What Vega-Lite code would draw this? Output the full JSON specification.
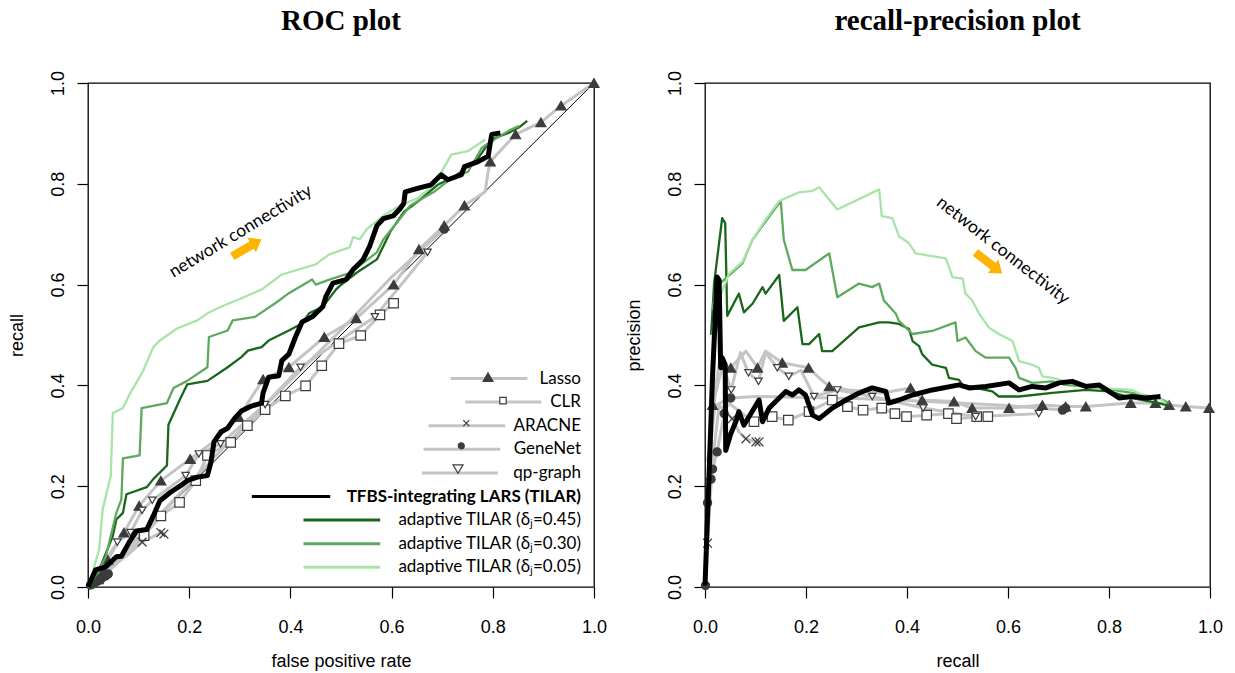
{
"$schema":"https://vega.github.io/schema/vega-lite/v6.json",
"background":"white",
"padding":{"left":7,"top":6,"right":5,"bottom":5},
"spacing":16,
"config":{
 "view":{"stroke":"black","strokeWidth":1.3},
 "axis":{"grid":false,"domain":false,"ticks":true,"tickColor":"black","tickWidth":1.2,"tickSize":11,"labelFont":"Liberation Sans","labelFontSize":18,"labelColor":"black","titleFont":"Liberation Sans","titleFontSize":18,"titleFontWeight":"normal","titleColor":"black","labelFlush":false,"labelOverlap":false},
 "axisX":{"labelPadding":20,"titlePadding":16},
 "axisY":{"labelAngle":-90,"labelAlign":"center","labelBaseline":"bottom","labelPadding":10,"titlePadding":23},
 "title":{"font":"Liberation Serif","fontSize":29,"fontWeight":"bold","color":"black","frame":"group","baseline":"alphabetic","offset":34}
},
"resolve":{"scale":{"shape":"independent","fill":"independent","stroke":"independent","color":"independent","size":"independent","strokeWidth":"independent"}},
"datasets":{
"legend":[{"entry":"Lasso"},{"entry":"CLR"},{"entry":"ARACNE"},{"entry":"GeneNet"},{"entry":"qp-graph"},{"entry":"TFBS-integrating LARS (TILAR)"},{"entry":"adaptive TILAR (δⱼ=0.45)"},{"entry":"adaptive TILAR (δⱼ=0.30)"},{"entry":"adaptive TILAR (δⱼ=0.05)"}],
"roc":[
{"method":"Lasso","fpr":0,"tpr":0},{"method":"Lasso","fpr":0.015,"tpr":0.02},{"method":"Lasso","fpr":0.039,"tpr":0.054},{"method":"Lasso","fpr":0.071,"tpr":0.108},{"method":"Lasso","fpr":0.101,"tpr":0.161},{"method":"Lasso","fpr":0.144,"tpr":0.211},{"method":"Lasso","fpr":0.202,"tpr":0.254},{"method":"Lasso","fpr":0.25,"tpr":0.29},{"method":"Lasso","fpr":0.298,"tpr":0.337},{"method":"Lasso","fpr":0.346,"tpr":0.412},{"method":"Lasso","fpr":0.397,"tpr":0.436},{"method":"Lasso","fpr":0.467,"tpr":0.496},{"method":"Lasso","fpr":0.53,"tpr":0.533},{"method":"Lasso","fpr":0.604,"tpr":0.6},{"method":"Lasso","fpr":0.654,"tpr":0.67},{"method":"Lasso","fpr":0.704,"tpr":0.717},{"method":"Lasso","fpr":0.744,"tpr":0.757},{"method":"Lasso","fpr":0.785,"tpr":0.784},{"method":"Lasso","fpr":0.79,"tpr":0.82},{"method":"Lasso","fpr":0.795,"tpr":0.844},{"method":"Lasso","fpr":0.845,"tpr":0.898},{"method":"Lasso","fpr":0.895,"tpr":0.922},{"method":"Lasso","fpr":0.935,"tpr":0.955},{"method":"Lasso","fpr":1,"tpr":1},
{"method":"CLR","fpr":0,"tpr":0},{"method":"CLR","fpr":0.05,"tpr":0.04},{"method":"CLR","fpr":0.111,"tpr":0.102},{"method":"CLR","fpr":0.144,"tpr":0.141},{"method":"CLR","fpr":0.181,"tpr":0.168},{"method":"CLR","fpr":0.213,"tpr":0.211},{"method":"CLR","fpr":0.236,"tpr":0.261},{"method":"CLR","fpr":0.282,"tpr":0.287},{"method":"CLR","fpr":0.315,"tpr":0.32},{"method":"CLR","fpr":0.35,"tpr":0.352},{"method":"CLR","fpr":0.39,"tpr":0.379},{"method":"CLR","fpr":0.43,"tpr":0.399},{"method":"CLR","fpr":0.462,"tpr":0.439},{"method":"CLR","fpr":0.496,"tpr":0.483},{"method":"CLR","fpr":0.539,"tpr":0.499},{"method":"CLR","fpr":0.577,"tpr":0.54},{"method":"CLR","fpr":0.604,"tpr":0.563},
{"method":"ARACNE","fpr":0,"tpr":0},{"method":"ARACNE","fpr":0.04,"tpr":0.035},{"method":"ARACNE","fpr":0.08,"tpr":0.065},{"method":"ARACNE","fpr":0.107,"tpr":0.089},{"method":"ARACNE","fpr":0.144,"tpr":0.108},{"method":"ARACNE","fpr":0.15,"tpr":0.105},
{"method":"GeneNet","fpr":0,"tpr":0},{"method":"GeneNet","fpr":0.01,"tpr":0.008},{"method":"GeneNet","fpr":0.02,"tpr":0.016},{"method":"GeneNet","fpr":0.03,"tpr":0.022},{"method":"GeneNet","fpr":0.06,"tpr":0.055},{"method":"GeneNet","fpr":0.1,"tpr":0.1},{"method":"GeneNet","fpr":0.2,"tpr":0.205},{"method":"GeneNet","fpr":0.3,"tpr":0.31},{"method":"GeneNet","fpr":0.4,"tpr":0.41},{"method":"GeneNet","fpr":0.5,"tpr":0.51},{"method":"GeneNet","fpr":0.6,"tpr":0.615},{"method":"GeneNet","fpr":0.704,"tpr":0.71},
{"method":"qp-graph","fpr":0,"tpr":0},{"method":"qp-graph","fpr":0.03,"tpr":0.045},{"method":"qp-graph","fpr":0.058,"tpr":0.089},{"method":"qp-graph","fpr":0.084,"tpr":0.108},{"method":"qp-graph","fpr":0.107,"tpr":0.152},{"method":"qp-graph","fpr":0.127,"tpr":0.172},{"method":"qp-graph","fpr":0.193,"tpr":0.221},{"method":"qp-graph","fpr":0.219,"tpr":0.264},{"method":"qp-graph","fpr":0.262,"tpr":0.284},{"method":"qp-graph","fpr":0.35,"tpr":0.362},{"method":"qp-graph","fpr":0.42,"tpr":0.436},{"method":"qp-graph","fpr":0.567,"tpr":0.536},{"method":"qp-graph","fpr":0.671,"tpr":0.664},
{"method":"TILAR","fpr":0,"tpr":0},{"method":"TILAR","fpr":0.015,"tpr":0.034},{"method":"TILAR","fpr":0.035,"tpr":0.04},{"method":"TILAR","fpr":0.056,"tpr":0.06},{"method":"TILAR","fpr":0.066,"tpr":0.061},{"method":"TILAR","fpr":0.082,"tpr":0.09},{"method":"TILAR","fpr":0.096,"tpr":0.111},{"method":"TILAR","fpr":0.116,"tpr":0.114},{"method":"TILAR","fpr":0.129,"tpr":0.141},{"method":"TILAR","fpr":0.142,"tpr":0.171},{"method":"TILAR","fpr":0.163,"tpr":0.188},{"method":"TILAR","fpr":0.183,"tpr":0.201},{"method":"TILAR","fpr":0.196,"tpr":0.211},{"method":"TILAR","fpr":0.216,"tpr":0.218},{"method":"TILAR","fpr":0.236,"tpr":0.221},{"method":"TILAR","fpr":0.243,"tpr":0.248},{"method":"TILAR","fpr":0.249,"tpr":0.288},{"method":"TILAR","fpr":0.256,"tpr":0.298},{"method":"TILAR","fpr":0.263,"tpr":0.308},{"method":"TILAR","fpr":0.276,"tpr":0.315},{"method":"TILAR","fpr":0.29,"tpr":0.335},{"method":"TILAR","fpr":0.303,"tpr":0.349},{"method":"TILAR","fpr":0.323,"tpr":0.359},{"method":"TILAR","fpr":0.343,"tpr":0.365},{"method":"TILAR","fpr":0.346,"tpr":0.385},{"method":"TILAR","fpr":0.357,"tpr":0.416},{"method":"TILAR","fpr":0.377,"tpr":0.419},{"method":"TILAR","fpr":0.383,"tpr":0.449},{"method":"TILAR","fpr":0.397,"tpr":0.462},{"method":"TILAR","fpr":0.41,"tpr":0.496},{"method":"TILAR","fpr":0.423,"tpr":0.526},{"method":"TILAR","fpr":0.443,"tpr":0.536},{"method":"TILAR","fpr":0.464,"tpr":0.556},{"method":"TILAR","fpr":0.47,"tpr":0.576},{"method":"TILAR","fpr":0.484,"tpr":0.603},{"method":"TILAR","fpr":0.51,"tpr":0.61},{"method":"TILAR","fpr":0.524,"tpr":0.63},{"method":"TILAR","fpr":0.544,"tpr":0.65},{"method":"TILAR","fpr":0.557,"tpr":0.677},{"method":"TILAR","fpr":0.571,"tpr":0.717},{"method":"TILAR","fpr":0.584,"tpr":0.731},{"method":"TILAR","fpr":0.604,"tpr":0.737},{"method":"TILAR","fpr":0.617,"tpr":0.751},{"method":"TILAR","fpr":0.624,"tpr":0.761},{"method":"TILAR","fpr":0.627,"tpr":0.784},{"method":"TILAR","fpr":0.651,"tpr":0.791},{"method":"TILAR","fpr":0.678,"tpr":0.798},{"method":"TILAR","fpr":0.698,"tpr":0.818},{"method":"TILAR","fpr":0.711,"tpr":0.808},{"method":"TILAR","fpr":0.738,"tpr":0.818},{"method":"TILAR","fpr":0.744,"tpr":0.834},{"method":"TILAR","fpr":0.771,"tpr":0.844},{"method":"TILAR","fpr":0.791,"tpr":0.855},{"method":"TILAR","fpr":0.795,"tpr":0.881},{"method":"TILAR","fpr":0.798,"tpr":0.898},{"method":"TILAR","fpr":0.815,"tpr":0.901},
{"method":"a45","fpr":0,"tpr":0},{"method":"a45","fpr":0.005,"tpr":0.003},{"method":"a45","fpr":0.022,"tpr":0.034},{"method":"a45","fpr":0.049,"tpr":0.101},{"method":"a45","fpr":0.056,"tpr":0.134},{"method":"a45","fpr":0.069,"tpr":0.147},{"method":"a45","fpr":0.076,"tpr":0.184},{"method":"a45","fpr":0.116,"tpr":0.198},{"method":"a45","fpr":0.129,"tpr":0.214},{"method":"a45","fpr":0.156,"tpr":0.241},{"method":"a45","fpr":0.159,"tpr":0.322},{"method":"a45","fpr":0.183,"tpr":0.375},{"method":"a45","fpr":0.196,"tpr":0.402},{"method":"a45","fpr":0.236,"tpr":0.409},{"method":"a45","fpr":0.276,"tpr":0.436},{"method":"a45","fpr":0.303,"tpr":0.456},{"method":"a45","fpr":0.316,"tpr":0.469},{"method":"a45","fpr":0.343,"tpr":0.476},{"method":"a45","fpr":0.357,"tpr":0.489},{"method":"a45","fpr":0.397,"tpr":0.509},{"method":"a45","fpr":0.423,"tpr":0.523},{"method":"a45","fpr":0.437,"tpr":0.543},{"method":"a45","fpr":0.464,"tpr":0.556},{"method":"a45","fpr":0.49,"tpr":0.59},{"method":"a45","fpr":0.497,"tpr":0.597},{"method":"a45","fpr":0.53,"tpr":0.623},{"method":"a45","fpr":0.571,"tpr":0.65},{"method":"a45","fpr":0.597,"tpr":0.704},{"method":"a45","fpr":0.624,"tpr":0.744},{"method":"a45","fpr":0.651,"tpr":0.764},{"method":"a45","fpr":0.691,"tpr":0.798},{"method":"a45","fpr":0.718,"tpr":0.811},{"method":"a45","fpr":0.738,"tpr":0.824},{"method":"a45","fpr":0.771,"tpr":0.851},{"method":"a45","fpr":0.785,"tpr":0.871},{"method":"a45","fpr":0.805,"tpr":0.891},{"method":"a45","fpr":0.831,"tpr":0.901},{"method":"a45","fpr":0.852,"tpr":0.912},{"method":"a45","fpr":0.868,"tpr":0.925},
{"method":"a30","fpr":0,"tpr":0},{"method":"a30","fpr":0.005,"tpr":0.007},{"method":"a30","fpr":0.025,"tpr":0.04},{"method":"a30","fpr":0.035,"tpr":0.06},{"method":"a30","fpr":0.056,"tpr":0.147},{"method":"a30","fpr":0.066,"tpr":0.174},{"method":"a30","fpr":0.069,"tpr":0.255},{"method":"a30","fpr":0.102,"tpr":0.261},{"method":"a30","fpr":0.106,"tpr":0.355},{"method":"a30","fpr":0.156,"tpr":0.365},{"method":"a30","fpr":0.169,"tpr":0.395},{"method":"a30","fpr":0.196,"tpr":0.409},{"method":"a30","fpr":0.236,"tpr":0.436},{"method":"a30","fpr":0.239,"tpr":0.496},{"method":"a30","fpr":0.276,"tpr":0.509},{"method":"a30","fpr":0.286,"tpr":0.529},{"method":"a30","fpr":0.33,"tpr":0.536},{"method":"a30","fpr":0.37,"tpr":0.563},{"method":"a30","fpr":0.397,"tpr":0.583},{"method":"a30","fpr":0.443,"tpr":0.61},{"method":"a30","fpr":0.45,"tpr":0.6},{"method":"a30","fpr":0.477,"tpr":0.61},{"method":"a30","fpr":0.517,"tpr":0.623},{"method":"a30","fpr":0.544,"tpr":0.643},{"method":"a30","fpr":0.571,"tpr":0.664},{"method":"a30","fpr":0.584,"tpr":0.69},{"method":"a30","fpr":0.617,"tpr":0.731},{"method":"a30","fpr":0.637,"tpr":0.757},{"method":"a30","fpr":0.684,"tpr":0.784},{"method":"a30","fpr":0.718,"tpr":0.811},{"method":"a30","fpr":0.751,"tpr":0.824},{"method":"a30","fpr":0.778,"tpr":0.871},{"method":"a30","fpr":0.798,"tpr":0.885},{"method":"a30","fpr":0.831,"tpr":0.905},{"method":"a30","fpr":0.852,"tpr":0.915},
{"method":"a05","fpr":0,"tpr":0},{"method":"a05","fpr":0.005,"tpr":0.005},{"method":"a05","fpr":0.012,"tpr":0.04},{"method":"a05","fpr":0.022,"tpr":0.074},{"method":"a05","fpr":0.029,"tpr":0.154},{"method":"a05","fpr":0.045,"tpr":0.221},{"method":"a05","fpr":0.049,"tpr":0.345},{"method":"a05","fpr":0.069,"tpr":0.355},{"method":"a05","fpr":0.082,"tpr":0.382},{"method":"a05","fpr":0.092,"tpr":0.399},{"method":"a05","fpr":0.109,"tpr":0.429},{"method":"a05","fpr":0.129,"tpr":0.476},{"method":"a05","fpr":0.142,"tpr":0.489},{"method":"a05","fpr":0.176,"tpr":0.513},{"method":"a05","fpr":0.216,"tpr":0.529},{"method":"a05","fpr":0.236,"tpr":0.543},{"method":"a05","fpr":0.263,"tpr":0.556},{"method":"a05","fpr":0.296,"tpr":0.57},{"method":"a05","fpr":0.343,"tpr":0.59},{"method":"a05","fpr":0.383,"tpr":0.62},{"method":"a05","fpr":0.45,"tpr":0.64},{"method":"a05","fpr":0.477,"tpr":0.66},{"method":"a05","fpr":0.517,"tpr":0.674},{"method":"a05","fpr":0.524,"tpr":0.694},{"method":"a05","fpr":0.537,"tpr":0.69},{"method":"a05","fpr":0.551,"tpr":0.71},{"method":"a05","fpr":0.584,"tpr":0.737},{"method":"a05","fpr":0.617,"tpr":0.757},{"method":"a05","fpr":0.651,"tpr":0.771},{"method":"a05","fpr":0.684,"tpr":0.798},{"method":"a05","fpr":0.718,"tpr":0.858},{"method":"a05","fpr":0.751,"tpr":0.865},{"method":"a05","fpr":0.785,"tpr":0.888}
],
"roc_marks":[
{"method":"Lasso","fpr":0.02,"tpr":0.015},{"method":"Lasso","fpr":0.03,"tpr":0.03},{"method":"Lasso","fpr":0.039,"tpr":0.054},{"method":"Lasso","fpr":0.071,"tpr":0.108},{"method":"Lasso","fpr":0.101,"tpr":0.161},{"method":"Lasso","fpr":0.144,"tpr":0.211},{"method":"Lasso","fpr":0.202,"tpr":0.254},{"method":"Lasso","fpr":0.298,"tpr":0.337},{"method":"Lasso","fpr":0.346,"tpr":0.412},{"method":"Lasso","fpr":0.397,"tpr":0.436},{"method":"Lasso","fpr":0.467,"tpr":0.496},{"method":"Lasso","fpr":0.53,"tpr":0.533},{"method":"Lasso","fpr":0.604,"tpr":0.6},{"method":"Lasso","fpr":0.654,"tpr":0.67},{"method":"Lasso","fpr":0.704,"tpr":0.717},{"method":"Lasso","fpr":0.744,"tpr":0.757},{"method":"Lasso","fpr":0.795,"tpr":0.844},{"method":"Lasso","fpr":0.845,"tpr":0.898},{"method":"Lasso","fpr":0.895,"tpr":0.922},{"method":"Lasso","fpr":0.935,"tpr":0.955},{"method":"Lasso","fpr":1,"tpr":1},
{"method":"CLR","fpr":0.111,"tpr":0.102},{"method":"CLR","fpr":0.144,"tpr":0.141},{"method":"CLR","fpr":0.181,"tpr":0.168},{"method":"CLR","fpr":0.213,"tpr":0.211},{"method":"CLR","fpr":0.236,"tpr":0.261},{"method":"CLR","fpr":0.282,"tpr":0.287},{"method":"CLR","fpr":0.315,"tpr":0.32},{"method":"CLR","fpr":0.35,"tpr":0.352},{"method":"CLR","fpr":0.39,"tpr":0.379},{"method":"CLR","fpr":0.43,"tpr":0.399},{"method":"CLR","fpr":0.462,"tpr":0.439},{"method":"CLR","fpr":0.496,"tpr":0.483},{"method":"CLR","fpr":0.539,"tpr":0.499},{"method":"CLR","fpr":0.577,"tpr":0.54},{"method":"CLR","fpr":0.604,"tpr":0.563},
{"method":"ARACNE","fpr":0.107,"tpr":0.089},{"method":"ARACNE","fpr":0.144,"tpr":0.108},{"method":"ARACNE","fpr":0.15,"tpr":0.105},
{"method":"GeneNet","fpr":0.005,"tpr":0.004},{"method":"GeneNet","fpr":0.01,"tpr":0.006},{"method":"GeneNet","fpr":0.015,"tpr":0.01},{"method":"GeneNet","fpr":0.02,"tpr":0.012},{"method":"GeneNet","fpr":0.025,"tpr":0.015},{"method":"GeneNet","fpr":0.03,"tpr":0.02},{"method":"GeneNet","fpr":0.035,"tpr":0.022},{"method":"GeneNet","fpr":0.04,"tpr":0.026},{"method":"GeneNet","fpr":0.704,"tpr":0.71},
{"method":"qp-graph","fpr":0.058,"tpr":0.089},{"method":"qp-graph","fpr":0.084,"tpr":0.108},{"method":"qp-graph","fpr":0.107,"tpr":0.152},{"method":"qp-graph","fpr":0.127,"tpr":0.172},{"method":"qp-graph","fpr":0.193,"tpr":0.221},{"method":"qp-graph","fpr":0.219,"tpr":0.264},{"method":"qp-graph","fpr":0.262,"tpr":0.284},{"method":"qp-graph","fpr":0.35,"tpr":0.362},{"method":"qp-graph","fpr":0.42,"tpr":0.436},{"method":"qp-graph","fpr":0.567,"tpr":0.536},{"method":"qp-graph","fpr":0.671,"tpr":0.664}
],
"pr":[
{"method":"Lasso","recall":0.001,"precision":0.02},{"method":"Lasso","recall":0.008,"precision":0.2},{"method":"Lasso","recall":0.015,"precision":0.361},{"method":"Lasso","recall":0.028,"precision":0.441},{"method":"Lasso","recall":0.051,"precision":0.435},{"method":"Lasso","recall":0.081,"precision":0.468},{"method":"Lasso","recall":0.104,"precision":0.435},{"method":"Lasso","recall":0.12,"precision":0.468},{"method":"Lasso","recall":0.153,"precision":0.445},{"method":"Lasso","recall":0.205,"precision":0.435},{"method":"Lasso","recall":0.226,"precision":0.415},{"method":"Lasso","recall":0.246,"precision":0.398},{"method":"Lasso","recall":0.285,"precision":0.391},{"method":"Lasso","recall":0.351,"precision":0.385},{"method":"Lasso","recall":0.407,"precision":0.395},{"method":"Lasso","recall":0.43,"precision":0.371},{"method":"Lasso","recall":0.493,"precision":0.368},{"method":"Lasso","recall":0.529,"precision":0.355},{"method":"Lasso","recall":0.602,"precision":0.355},{"method":"Lasso","recall":0.668,"precision":0.361},{"method":"Lasso","recall":0.714,"precision":0.358},{"method":"Lasso","recall":0.754,"precision":0.358},{"method":"Lasso","recall":0.843,"precision":0.365},{"method":"Lasso","recall":0.892,"precision":0.365},{"method":"Lasso","recall":0.919,"precision":0.361},{"method":"Lasso","recall":0.952,"precision":0.358},{"method":"Lasso","recall":0.998,"precision":0.355},
{"method":"CLR","recall":0.005,"precision":0.25},{"method":"CLR","recall":0.02,"precision":0.36},{"method":"CLR","recall":0.04,"precision":0.37},{"method":"CLR","recall":0.06,"precision":0.355},{"method":"CLR","recall":0.08,"precision":0.34},{"method":"CLR","recall":0.097,"precision":0.328},{"method":"CLR","recall":0.133,"precision":0.338},{"method":"CLR","recall":0.165,"precision":0.331},{"method":"CLR","recall":0.206,"precision":0.348},{"method":"CLR","recall":0.252,"precision":0.371},{"method":"CLR","recall":0.282,"precision":0.358},{"method":"CLR","recall":0.313,"precision":0.351},{"method":"CLR","recall":0.35,"precision":0.355},{"method":"CLR","recall":0.376,"precision":0.344},{"method":"CLR","recall":0.399,"precision":0.338},{"method":"CLR","recall":0.439,"precision":0.341},{"method":"CLR","recall":0.482,"precision":0.344},{"method":"CLR","recall":0.498,"precision":0.334},{"method":"CLR","recall":0.538,"precision":0.338},{"method":"CLR","recall":0.56,"precision":0.338},
{"method":"ARACNE","recall":0.001,"precision":0},{"method":"ARACNE","recall":0.005,"precision":0.087},{"method":"ARACNE","recall":0.015,"precision":0.25},{"method":"ARACNE","recall":0.028,"precision":0.361},{"method":"ARACNE","recall":0.054,"precision":0.334},{"method":"ARACNE","recall":0.067,"precision":0.308},{"method":"ARACNE","recall":0.081,"precision":0.294},{"method":"ARACNE","recall":0.101,"precision":0.288},{"method":"ARACNE","recall":0.107,"precision":0.288},
{"method":"GeneNet","recall":0.001,"precision":0.003},{"method":"GeneNet","recall":0.005,"precision":0.167},{"method":"GeneNet","recall":0.012,"precision":0.214},{"method":"GeneNet","recall":0.015,"precision":0.234},{"method":"GeneNet","recall":0.024,"precision":0.268},{"method":"GeneNet","recall":0.038,"precision":0.344},{"method":"GeneNet","recall":0.051,"precision":0.375},{"method":"GeneNet","recall":0.1,"precision":0.378},{"method":"GeneNet","recall":0.2,"precision":0.376},{"method":"GeneNet","recall":0.3,"precision":0.374},{"method":"GeneNet","recall":0.4,"precision":0.37},{"method":"GeneNet","recall":0.5,"precision":0.365},{"method":"GeneNet","recall":0.6,"precision":0.36},{"method":"GeneNet","recall":0.708,"precision":0.351},{"method":"GeneNet","recall":0.714,"precision":0.355},
{"method":"qp-graph","recall":0.005,"precision":0.2},{"method":"qp-graph","recall":0.02,"precision":0.38},{"method":"qp-graph","recall":0.035,"precision":0.44},{"method":"qp-graph","recall":0.052,"precision":0.391},{"method":"qp-graph","recall":0.07,"precision":0.465},{"method":"qp-graph","recall":0.086,"precision":0.425},{"method":"qp-graph","recall":0.106,"precision":0.408},{"method":"qp-graph","recall":0.12,"precision":0.465},{"method":"qp-graph","recall":0.143,"precision":0.435},{"method":"qp-graph","recall":0.166,"precision":0.418},{"method":"qp-graph","recall":0.19,"precision":0.43},{"method":"qp-graph","recall":0.216,"precision":0.378},{"method":"qp-graph","recall":0.262,"precision":0.391},{"method":"qp-graph","recall":0.331,"precision":0.378},{"method":"qp-graph","recall":0.432,"precision":0.355},{"method":"qp-graph","recall":0.536,"precision":0.338},{"method":"qp-graph","recall":0.661,"precision":0.344},
{"method":"TILAR","recall":0,"precision":0.003},{"method":"TILAR","recall":0.008,"precision":0.221},{"method":"TILAR","recall":0.015,"precision":0.421},{"method":"TILAR","recall":0.024,"precision":0.615},{"method":"TILAR","recall":0.028,"precision":0.609},{"method":"TILAR","recall":0.031,"precision":0.435},{"method":"TILAR","recall":0.034,"precision":0.455},{"method":"TILAR","recall":0.04,"precision":0.441},{"method":"TILAR","recall":0.041,"precision":0.271},{"method":"TILAR","recall":0.051,"precision":0.304},{"method":"TILAR","recall":0.061,"precision":0.328},{"method":"TILAR","recall":0.067,"precision":0.348},{"method":"TILAR","recall":0.077,"precision":0.321},{"method":"TILAR","recall":0.107,"precision":0.371},{"method":"TILAR","recall":0.114,"precision":0.328},{"method":"TILAR","recall":0.127,"precision":0.355},{"method":"TILAR","recall":0.14,"precision":0.368},{"method":"TILAR","recall":0.16,"precision":0.388},{"method":"TILAR","recall":0.173,"precision":0.381},{"method":"TILAR","recall":0.186,"precision":0.391},{"method":"TILAR","recall":0.199,"precision":0.381},{"method":"TILAR","recall":0.213,"precision":0.341},{"method":"TILAR","recall":0.226,"precision":0.334},{"method":"TILAR","recall":0.252,"precision":0.355},{"method":"TILAR","recall":0.279,"precision":0.371},{"method":"TILAR","recall":0.305,"precision":0.385},{"method":"TILAR","recall":0.331,"precision":0.395},{"method":"TILAR","recall":0.358,"precision":0.388},{"method":"TILAR","recall":0.364,"precision":0.365},{"method":"TILAR","recall":0.384,"precision":0.371},{"method":"TILAR","recall":0.411,"precision":0.381},{"method":"TILAR","recall":0.45,"precision":0.391},{"method":"TILAR","recall":0.503,"precision":0.401},{"method":"TILAR","recall":0.523,"precision":0.395},{"method":"TILAR","recall":0.556,"precision":0.398},{"method":"TILAR","recall":0.602,"precision":0.405},{"method":"TILAR","recall":0.622,"precision":0.391},{"method":"TILAR","recall":0.648,"precision":0.398},{"method":"TILAR","recall":0.675,"precision":0.395},{"method":"TILAR","recall":0.701,"precision":0.405},{"method":"TILAR","recall":0.727,"precision":0.408},{"method":"TILAR","recall":0.754,"precision":0.398},{"method":"TILAR","recall":0.78,"precision":0.401},{"method":"TILAR","recall":0.8,"precision":0.388},{"method":"TILAR","recall":0.82,"precision":0.375},{"method":"TILAR","recall":0.846,"precision":0.378},{"method":"TILAR","recall":0.873,"precision":0.375},{"method":"TILAR","recall":0.902,"precision":0.378},
{"method":"a45","recall":0.012,"precision":0.5},{"method":"a45","recall":0.018,"precision":0.602},{"method":"a45","recall":0.034,"precision":0.732},{"method":"a45","recall":0.04,"precision":0.722},{"method":"a45","recall":0.044,"precision":0.538},{"method":"a45","recall":0.067,"precision":0.582},{"method":"a45","recall":0.077,"precision":0.545},{"method":"a45","recall":0.094,"precision":0.562},{"method":"a45","recall":0.114,"precision":0.595},{"method":"a45","recall":0.12,"precision":0.582},{"method":"a45","recall":0.147,"precision":0.619},{"method":"a45","recall":0.156,"precision":0.528},{"method":"a45","recall":0.183,"precision":0.555},{"method":"a45","recall":0.193,"precision":0.482},{"method":"a45","recall":0.206,"precision":0.482},{"method":"a45","recall":0.226,"precision":0.502},{"method":"a45","recall":0.232,"precision":0.468},{"method":"a45","recall":0.252,"precision":0.468},{"method":"a45","recall":0.305,"precision":0.515},{"method":"a45","recall":0.345,"precision":0.525},{"method":"a45","recall":0.364,"precision":0.525},{"method":"a45","recall":0.384,"precision":0.522},{"method":"a45","recall":0.404,"precision":0.512},{"method":"a45","recall":0.411,"precision":0.488},{"method":"a45","recall":0.424,"precision":0.478},{"method":"a45","recall":0.43,"precision":0.462},{"method":"a45","recall":0.45,"precision":0.441},{"method":"a45","recall":0.463,"precision":0.438},{"method":"a45","recall":0.477,"precision":0.435},{"method":"a45","recall":0.483,"precision":0.415},{"method":"a45","recall":0.503,"precision":0.411},{"method":"a45","recall":0.51,"precision":0.401},{"method":"a45","recall":0.536,"precision":0.395},{"method":"a45","recall":0.569,"precision":0.388},{"method":"a45","recall":0.582,"precision":0.378},{"method":"a45","recall":0.622,"precision":0.378},{"method":"a45","recall":0.688,"precision":0.385},{"method":"a45","recall":0.754,"precision":0.391},{"method":"a45","recall":0.8,"precision":0.388},{"method":"a45","recall":0.846,"precision":0.375},{"method":"a45","recall":0.899,"precision":0.365},{"method":"a45","recall":0.919,"precision":0.36},
{"method":"a30","recall":0.015,"precision":0.55},{"method":"a30","recall":0.021,"precision":0.595},{"method":"a30","recall":0.044,"precision":0.615},{"method":"a30","recall":0.074,"precision":0.642},{"method":"a30","recall":0.094,"precision":0.689},{"method":"a30","recall":0.15,"precision":0.766},{"method":"a30","recall":0.156,"precision":0.689},{"method":"a30","recall":0.173,"precision":0.629},{"method":"a30","recall":0.199,"precision":0.629},{"method":"a30","recall":0.246,"precision":0.662},{"method":"a30","recall":0.262,"precision":0.575},{"method":"a30","recall":0.305,"precision":0.602},{"method":"a30","recall":0.331,"precision":0.595},{"method":"a30","recall":0.345,"precision":0.602},{"method":"a30","recall":0.354,"precision":0.569},{"method":"a30","recall":0.378,"precision":0.542},{"method":"a30","recall":0.384,"precision":0.528},{"method":"a30","recall":0.411,"precision":0.502},{"method":"a30","recall":0.45,"precision":0.508},{"method":"a30","recall":0.496,"precision":0.525},{"method":"a30","recall":0.5,"precision":0.488},{"method":"a30","recall":0.516,"precision":0.495},{"method":"a30","recall":0.536,"precision":0.468},{"method":"a30","recall":0.556,"precision":0.455},{"method":"a30","recall":0.602,"precision":0.455},{"method":"a30","recall":0.615,"precision":0.435},{"method":"a30","recall":0.622,"precision":0.415},{"method":"a30","recall":0.648,"precision":0.405},{"method":"a30","recall":0.688,"precision":0.408},{"method":"a30","recall":0.714,"precision":0.401},{"method":"a30","recall":0.78,"precision":0.395},{"method":"a30","recall":0.846,"precision":0.385},{"method":"a30","recall":0.899,"precision":0.375},{"method":"a30","recall":0.919,"precision":0.365},
{"method":"a05","recall":0.015,"precision":0.5},{"method":"a05","recall":0.021,"precision":0.555},{"method":"a05","recall":0.048,"precision":0.622},{"method":"a05","recall":0.074,"precision":0.645},{"method":"a05","recall":0.094,"precision":0.689},{"method":"a05","recall":0.12,"precision":0.729},{"method":"a05","recall":0.147,"precision":0.766},{"method":"a05","recall":0.186,"precision":0.783},{"method":"a05","recall":0.213,"precision":0.786},{"method":"a05","recall":0.226,"precision":0.793},{"method":"a05","recall":0.262,"precision":0.749},{"method":"a05","recall":0.345,"precision":0.789},{"method":"a05","recall":0.35,"precision":0.736},{"method":"a05","recall":0.371,"precision":0.732},{"method":"a05","recall":0.384,"precision":0.696},{"method":"a05","recall":0.404,"precision":0.682},{"method":"a05","recall":0.417,"precision":0.662},{"method":"a05","recall":0.477,"precision":0.652},{"method":"a05","recall":0.49,"precision":0.615},{"method":"a05","recall":0.51,"precision":0.612},{"method":"a05","recall":0.516,"precision":0.582},{"method":"a05","recall":0.529,"precision":0.569},{"method":"a05","recall":0.543,"precision":0.542},{"method":"a05","recall":0.562,"precision":0.515},{"method":"a05","recall":0.582,"precision":0.502},{"method":"a05","recall":0.609,"precision":0.488},{"method":"a05","recall":0.622,"precision":0.448},{"method":"a05","recall":0.648,"precision":0.441},{"method":"a05","recall":0.661,"precision":0.435},{"method":"a05","recall":0.668,"precision":0.418},{"method":"a05","recall":0.688,"precision":0.415},{"method":"a05","recall":0.714,"precision":0.408},{"method":"a05","recall":0.78,"precision":0.395},{"method":"a05","recall":0.846,"precision":0.391},{"method":"a05","recall":0.866,"precision":0.381},{"method":"a05","recall":0.899,"precision":0.375},{"method":"a05","recall":0.912,"precision":0.365}
],
"pr_marks":[
{"method":"Lasso","recall":0.015,"precision":0.361},{"method":"Lasso","recall":0.051,"precision":0.435},{"method":"Lasso","recall":0.104,"precision":0.435},{"method":"Lasso","recall":0.153,"precision":0.445},{"method":"Lasso","recall":0.205,"precision":0.435},{"method":"Lasso","recall":0.246,"precision":0.398},{"method":"Lasso","recall":0.407,"precision":0.395},{"method":"Lasso","recall":0.43,"precision":0.371},{"method":"Lasso","recall":0.493,"precision":0.368},{"method":"Lasso","recall":0.529,"precision":0.355},{"method":"Lasso","recall":0.602,"precision":0.355},{"method":"Lasso","recall":0.668,"precision":0.361},{"method":"Lasso","recall":0.714,"precision":0.358},{"method":"Lasso","recall":0.754,"precision":0.358},{"method":"Lasso","recall":0.843,"precision":0.365},{"method":"Lasso","recall":0.892,"precision":0.365},{"method":"Lasso","recall":0.919,"precision":0.361},{"method":"Lasso","recall":0.952,"precision":0.358},{"method":"Lasso","recall":0.998,"precision":0.355},
{"method":"CLR","recall":0.097,"precision":0.328},{"method":"CLR","recall":0.133,"precision":0.338},{"method":"CLR","recall":0.165,"precision":0.331},{"method":"CLR","recall":0.206,"precision":0.348},{"method":"CLR","recall":0.252,"precision":0.371},{"method":"CLR","recall":0.282,"precision":0.358},{"method":"CLR","recall":0.313,"precision":0.351},{"method":"CLR","recall":0.35,"precision":0.355},{"method":"CLR","recall":0.376,"precision":0.344},{"method":"CLR","recall":0.399,"precision":0.338},{"method":"CLR","recall":0.439,"precision":0.341},{"method":"CLR","recall":0.482,"precision":0.344},{"method":"CLR","recall":0.498,"precision":0.334},{"method":"CLR","recall":0.538,"precision":0.338},{"method":"CLR","recall":0.56,"precision":0.338},
{"method":"ARACNE","recall":0.005,"precision":0.087},{"method":"ARACNE","recall":0.054,"precision":0.334},{"method":"ARACNE","recall":0.081,"precision":0.294},{"method":"ARACNE","recall":0.101,"precision":0.288},{"method":"ARACNE","recall":0.107,"precision":0.288},
{"method":"GeneNet","recall":0.001,"precision":0.003},{"method":"GeneNet","recall":0.005,"precision":0.167},{"method":"GeneNet","recall":0.012,"precision":0.214},{"method":"GeneNet","recall":0.015,"precision":0.234},{"method":"GeneNet","recall":0.024,"precision":0.268},{"method":"GeneNet","recall":0.038,"precision":0.344},{"method":"GeneNet","recall":0.051,"precision":0.375},{"method":"GeneNet","recall":0.708,"precision":0.351},{"method":"GeneNet","recall":0.714,"precision":0.355},
{"method":"qp-graph","recall":0.052,"precision":0.391},{"method":"qp-graph","recall":0.086,"precision":0.425},{"method":"qp-graph","recall":0.106,"precision":0.408},{"method":"qp-graph","recall":0.143,"precision":0.435},{"method":"qp-graph","recall":0.166,"precision":0.418},{"method":"qp-graph","recall":0.216,"precision":0.378},{"method":"qp-graph","recall":0.262,"precision":0.391},{"method":"qp-graph","recall":0.331,"precision":0.378},{"method":"qp-graph","recall":0.432,"precision":0.355},{"method":"qp-graph","recall":0.536,"precision":0.338},{"method":"qp-graph","recall":0.661,"precision":0.344}
]
},
"hconcat":[
{
"width":506,"height":504,
"title":{"text":"ROC plot"},
"resolve":{"scale":{"shape":"independent","fill":"independent","stroke":"independent","color":"independent","size":"independent","strokeWidth":"independent"}},
"layer":[
{"data":{"values":[{}]},"mark":{"type":"rule","color":"black","strokeWidth":1},
 "encoding":{"x":{"datum":0,"type":"quantitative","scale":{"domain":[0,1],"nice":false,"zero":false}},"y":{"datum":0,"type":"quantitative","scale":{"domain":[0,1],"nice":false,"zero":false}},"x2":{"datum":1},"y2":{"datum":1}}},
{"data":{"name":"roc"},"transform":[{"filter":{"field":"method","oneOf":["Lasso","CLR","ARACNE","GeneNet","qp-graph"]}}],
 "mark":{"type":"line","color":"#c4c4c4","strokeWidth":3,"strokeJoin":"round"},
 "encoding":{"x":{"field":"fpr","type":"quantitative","scale":{"domain":[0,1],"nice":false,"zero":false},"axis":{"title":"false positive rate","values":[0,0.2,0.4,0.6,0.8,1],"format":".1f"}},
  "y":{"field":"tpr","type":"quantitative","scale":{"domain":[0,1],"nice":false,"zero":false},"axis":{"title":"recall","values":[0,0.2,0.4,0.6,0.8,1],"format":".1f"}},
  "detail":{"field":"method"}}},
{"data":{"name":"roc_marks"},"mark":{"type":"point","filled":true,"stroke":"#3c3c3c","strokeWidth":1.2,"opacity":1},
 "encoding":{"x":{"field":"fpr","type":"quantitative"},"y":{"field":"tpr","type":"quantitative"},
  "shape":{"field":"method","scale":{"domain":["Lasso","CLR","ARACNE","GeneNet","qp-graph"],"range":["triangle-up","square","M-1,-1L1,1M-1,1L1,-1","circle","triangle-down"]},"legend":null},
  "fill":{"field":"method","scale":{"domain":["Lasso","CLR","ARACNE","GeneNet","qp-graph"],"range":["#3c3c3c","#ffffff","transparent","#3c3c3c","#ffffff"]},"legend":null},
  "size":{"field":"method","scale":{"domain":["Lasso","CLR","ARACNE","GeneNet","qp-graph"],"range":[100,55,50,55,100]},"legend":null}}},
{"data":{"name":"roc"},"transform":[{"filter":{"field":"method","oneOf":["a45","a30","a05"]}}],
 "mark":{"type":"line","strokeWidth":2.3,"strokeJoin":"round"},
 "encoding":{"x":{"field":"fpr","type":"quantitative"},"y":{"field":"tpr","type":"quantitative"},
  "color":{"field":"method","scale":{"domain":["a05","a30","a45"],"range":["#a8e4a8","#5fa95f","#1a661a"]},"legend":null}}},
{"data":{"name":"roc"},"transform":[{"filter":{"field":"method","equal":"TILAR"}}],
 "mark":{"type":"line","color":"black","strokeWidth":5,"strokeJoin":"round"},
 "encoding":{"x":{"field":"fpr","type":"quantitative"},"y":{"field":"tpr","type":"quantitative"}}},
{"data":{"values":[{}]},"mark":{"type":"text","text":"network connectivity","angle":-31,"font":"Lato","fontSize":17.5,"color":"black","align":"center","baseline":"middle"},
 "encoding":{"x":{"datum":0.302,"type":"quantitative"},"y":{"datum":0.705,"type":"quantitative"}}},
{"data":{"values":[{}]},"mark":{"type":"point","shape":"M-1.7,-0.42L0.55,-0.42L0.55,-0.85L1.7,0L0.55,0.85L0.55,0.42L-1.7,0.42Z","filled":true,"color":"#ffb300","size":400,"angle":-30.5,"opacity":1,"strokeWidth":0},
 "encoding":{"x":{"datum":0.314,"type":"quantitative"},"y":{"datum":0.673,"type":"quantitative"}}},
{"data":{"name":"legend"},"mark":{"type":"point","filled":false,"opacity":0,"size":400},
 "encoding":{
  "shape":{"field":"entry","type":"nominal","scale":{"domain":["Lasso","CLR","ARACNE","GeneNet","qp-graph","TFBS-integrating LARS (TILAR)","adaptive TILAR (δⱼ=0.45)","adaptive TILAR (δⱼ=0.30)","adaptive TILAR (δⱼ=0.05)"],"range":["M-11.9,0H-4.2","M-10.43,0H-2.83","M-14.1,0H-6.43","M-14.6,0H-6.93","M-14.77,0H-7.17","M-31.77,0H-23.93","M-26.6,0H-18.93","M-26.6,0H-18.93","M-26.6,0H-18.93"]},
   "legend":{"title":null,"orient":"none","legendX":470,"legendY":284,"direction":"vertical","padding":0,"rowPadding":3.6,"symbolSize":400,"symbolOpacity":1,"labelFont":"Lato","labelFontSize":17,"labelColor":"black","labelAlign":"right","labelOffset":0,"labelLimit":400,"labelFontWeight":{"expr":"datum.value === 'TFBS-integrating LARS (TILAR)' ? 'bold' : 'normal'"}}},
  "stroke":{"field":"entry","type":"nominal","scale":{"domain":["Lasso","CLR","ARACNE","GeneNet","qp-graph","TFBS-integrating LARS (TILAR)","adaptive TILAR (δⱼ=0.45)","adaptive TILAR (δⱼ=0.30)","adaptive TILAR (δⱼ=0.05)"],"range":["#c4c4c4","#c4c4c4","#c4c4c4","#c4c4c4","#c4c4c4","#000000","#1a661a","#5fa95f","#a8e4a8"]},
   "legend":{"title":null,"orient":"none","legendX":470,"legendY":284,"direction":"vertical","padding":0,"rowPadding":3.6,"symbolSize":400,"symbolOpacity":1,"labelFont":"Lato","labelFontSize":17,"labelColor":"black","labelAlign":"right","labelOffset":0,"labelLimit":400,"labelFontWeight":{"expr":"datum.value === 'TFBS-integrating LARS (TILAR)' ? 'bold' : 'normal'"}}},
  "strokeWidth":{"field":"entry","type":"nominal","scale":{"domain":["Lasso","CLR","ARACNE","GeneNet","qp-graph","TFBS-integrating LARS (TILAR)","adaptive TILAR (δⱼ=0.45)","adaptive TILAR (δⱼ=0.30)","adaptive TILAR (δⱼ=0.05)"],"range":[3,3,3,3,3,6,2.6,2.6,2.6]},
   "legend":{"title":null,"orient":"none","legendX":470,"legendY":284,"direction":"vertical","padding":0,"rowPadding":3.6,"symbolSize":400,"symbolOpacity":1,"labelFont":"Lato","labelFontSize":17,"labelColor":"black","labelAlign":"right","labelOffset":0,"labelLimit":400,"labelFontWeight":{"expr":"datum.value === 'TFBS-integrating LARS (TILAR)' ? 'bold' : 'normal'"}}}}},
{"data":{"name":"legend"},"mark":{"type":"point","filled":true,"opacity":0,"size":400},
 "encoding":{
  "shape":{"field":"entry","type":"nominal","scale":{"domain":["Lasso","CLR","ARACNE","GeneNet","qp-graph","TFBS-integrating LARS (TILAR)","adaptive TILAR (δⱼ=0.45)","adaptive TILAR (δⱼ=0.30)","adaptive TILAR (δⱼ=0.05)"],"range":["M-8.6,0.35L-8.1,-0.5L-7.6,0.35Z","M-6.92,-0.32H-6.28V0.32H-6.92Z","M-10.57,-0.3L-9.97,0.3M-10.57,0.3L-9.97,-0.3","M-11.07,0A0.3,0.3,0,1,0,-10.47,0A0.3,0.3,0,1,0,-11.07,0Z","M-11.6,-0.35L-10.6,-0.35L-11.1,0.5Z","M0,0L0.01,0","M0,0L0.01,0","M0,0L0.01,0","M0,0L0.01,0"]},
   "legend":{"title":null,"orient":"none","legendX":470,"legendY":284,"direction":"vertical","padding":0,"rowPadding":3.6,"symbolSize":400,"symbolOpacity":1,"symbolStrokeWidth":1.2,"labelFont":"Lato","labelFontSize":17,"labelAlign":"right","labelOffset":0,"labelLimit":400,"labelExpr":"''"}},
  "fill":{"field":"entry","type":"nominal","scale":{"domain":["Lasso","CLR","ARACNE","GeneNet","qp-graph","TFBS-integrating LARS (TILAR)","adaptive TILAR (δⱼ=0.45)","adaptive TILAR (δⱼ=0.30)","adaptive TILAR (δⱼ=0.05)"],"range":["#3c3c3c","#ffffff","transparent","#3c3c3c","#ffffff","transparent","transparent","transparent","transparent"]},
   "legend":{"title":null,"orient":"none","legendX":470,"legendY":284,"direction":"vertical","padding":0,"rowPadding":3.6,"symbolSize":400,"symbolOpacity":1,"symbolStrokeWidth":1.2,"labelFont":"Lato","labelFontSize":17,"labelAlign":"right","labelOffset":0,"labelLimit":400,"labelExpr":"''"}},
  "stroke":{"field":"entry","type":"nominal","scale":{"domain":["Lasso","CLR","ARACNE","GeneNet","qp-graph","TFBS-integrating LARS (TILAR)","adaptive TILAR (δⱼ=0.45)","adaptive TILAR (δⱼ=0.30)","adaptive TILAR (δⱼ=0.05)"],"range":["#3c3c3c","#3c3c3c","#3c3c3c","#3c3c3c","#3c3c3c","transparent","transparent","transparent","transparent"]},
   "legend":{"title":null,"orient":"none","legendX":470,"legendY":284,"direction":"vertical","padding":0,"rowPadding":3.6,"symbolSize":400,"symbolOpacity":1,"symbolStrokeWidth":1.2,"labelFont":"Lato","labelFontSize":17,"labelAlign":"right","labelOffset":0,"labelLimit":400,"labelExpr":"''"}}}}
]
},
{
"width":505,"height":504,
"title":{"text":"recall-precision plot"},
"resolve":{"scale":{"shape":"independent","fill":"independent","stroke":"independent","color":"independent","size":"independent"}},
"layer":[
{"data":{"name":"pr"},"transform":[{"filter":{"field":"method","oneOf":["Lasso","CLR","ARACNE","GeneNet","qp-graph"]}}],
 "mark":{"type":"line","color":"#c4c4c4","strokeWidth":3,"strokeJoin":"round"},
 "encoding":{"x":{"field":"recall","type":"quantitative","scale":{"domain":[0,1],"nice":false,"zero":false},"axis":{"title":"recall","values":[0,0.2,0.4,0.6,0.8,1],"format":".1f"}},
  "y":{"field":"precision","type":"quantitative","scale":{"domain":[0,1],"nice":false,"zero":false},"axis":{"title":"precision","values":[0,0.2,0.4,0.6,0.8,1],"format":".1f"}},
  "detail":{"field":"method"}}},
{"data":{"name":"pr_marks"},"mark":{"type":"point","filled":true,"stroke":"#3c3c3c","strokeWidth":1.2,"opacity":1},
 "encoding":{"x":{"field":"recall","type":"quantitative"},"y":{"field":"precision","type":"quantitative"},
  "shape":{"field":"method","scale":{"domain":["Lasso","CLR","ARACNE","GeneNet","qp-graph"],"range":["triangle-up","square","M-1,-1L1,1M-1,1L1,-1","circle","triangle-down"]},"legend":null},
  "fill":{"field":"method","scale":{"domain":["Lasso","CLR","ARACNE","GeneNet","qp-graph"],"range":["#3c3c3c","#ffffff","transparent","#3c3c3c","#ffffff"]},"legend":null},
  "size":{"field":"method","scale":{"domain":["Lasso","CLR","ARACNE","GeneNet","qp-graph"],"range":[100,55,50,55,100]},"legend":null}}},
{"data":{"name":"pr"},"transform":[{"filter":{"field":"method","oneOf":["a45","a30","a05"]}}],
 "mark":{"type":"line","strokeWidth":2.3,"strokeJoin":"round"},
 "encoding":{"x":{"field":"recall","type":"quantitative"},"y":{"field":"precision","type":"quantitative"},
  "color":{"field":"method","scale":{"domain":["a05","a30","a45"],"range":["#a8e4a8","#5fa95f","#1a661a"]},"legend":null}}},
{"data":{"name":"pr"},"transform":[{"filter":{"field":"method","equal":"TILAR"}}],
 "mark":{"type":"line","color":"black","strokeWidth":5,"strokeJoin":"round"},
 "encoding":{"x":{"field":"recall","type":"quantitative"},"y":{"field":"precision","type":"quantitative"}}},
{"data":{"values":[{}]},"mark":{"type":"text","text":"network connectivity","angle":38,"font":"Lato","fontSize":17.5,"color":"black","align":"center","baseline":"middle"},
 "encoding":{"x":{"datum":0.59,"type":"quantitative"},"y":{"datum":0.667,"type":"quantitative"}}},
{"data":{"values":[{}]},"mark":{"type":"point","shape":"M-1.7,-0.42L0.55,-0.42L0.55,-0.85L1.7,0L0.55,0.85L0.55,0.42L-1.7,0.42Z","filled":true,"color":"#ffb300","size":400,"angle":38,"opacity":1,"strokeWidth":0},
 "encoding":{"x":{"datum":0.562,"type":"quantitative"},"y":{"datum":0.643,"type":"quantitative"}}}
]
}
]
}
